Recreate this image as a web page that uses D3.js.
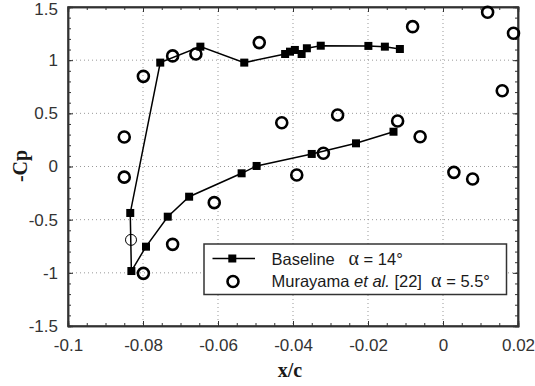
<!DOCTYPE html>
<html><head><meta charset="utf-8">
<script src="https://cdn.jsdelivr.net/npm/d3@7"></script>
<style>body{margin:0;background:#fff}svg{display:block}</style>
</head><body>
<svg id="c" width="535" height="386"></svg>
<script>
// Baseline alpha = 14 deg, in path order (upper surface TE -> LE -> lower surface)
const baseX = [-0.0115,-0.0155,-0.0199,-0.0326,-0.0363,-0.0377,-0.0395,-0.0408,-0.0421,-0.0530,-0.0647,-0.0754,-0.0834,-0.0831,-0.0792,-0.0734,-0.0677,-0.0537,-0.0497,-0.0350,-0.0232,-0.0132];
const baseCp = [1.105,1.127,1.134,1.136,1.112,1.058,1.096,1.080,1.058,0.977,1.127,0.977,-0.437,-0.983,-0.754,-0.472,-0.284,-0.064,0.005,0.118,0.218,0.327];
// Murayama et al. [22] alpha = 5.5 deg
const murX = [-0.0850,-0.0850,-0.0799,-0.0721,-0.0659,-0.0490,-0.0610,-0.0721,-0.0799,-0.0081,0.0119,0.0188,0.0158,-0.0430,-0.0281,-0.0121,-0.0061,-0.0319,-0.0390,0.0029,0.0079];
const murCp = [0.277,-0.100,0.848,1.040,1.058,1.165,-0.340,-0.732,-1.005,1.315,1.450,1.253,0.713,0.412,0.484,0.428,0.280,0.124,-0.080,-0.055,-0.118];
// thin circle near the leading edge
const thinX = [-0.0832];
const thinCp = [-0.690];
const xTicks = [-0.1,-0.08,-0.06,-0.04,-0.02,0,0.02];
const yTicks = [-1.5,-1,-0.5,0,0.5,1,1.5];
const xTickLabels = ["-0.1","-0.08","-0.06","-0.04","-0.02","0","0.02"];
const yTickLabels = ["-1.5","-1","-0.5","0","0.5","1","1.5"];

const svg = d3.select("#c");
const L=68, R=518, T=7, B=326;
const x = d3.scaleLinear().domain([-0.1,0.02]).range([L,R]);
const y = d3.scaleLinear().domain([-1.5,1.5]).range([B,T]);
const axCol = "#333";

// grid
const g = svg.append("g");
xTicks.slice(1,-1).forEach(v=>g.append("line").attr("x1",x(v)).attr("x2",x(v)).attr("y1",T).attr("y2",B)
  .attr("stroke","#999").attr("stroke-width",1).attr("stroke-dasharray","1,3"));
yTicks.slice(1,-1).forEach(v=>g.append("line").attr("x1",L).attr("x2",R).attr("y1",y(v)).attr("y2",y(v))
  .attr("stroke","#999").attr("stroke-width",1).attr("stroke-dasharray","1,3"));

// axes with inward ticks
const xMinor = d3.range(-0.1,0.0201,0.005);
const yMinor = d3.range(-1.5,1.501,0.1);
const axB = d3.axisBottom(x).tickValues(xMinor).tickSize(-3).tickFormat("");
const axT = d3.axisTop(x).tickValues(xMinor).tickSize(-3).tickFormat("");
const axLf = d3.axisLeft(y).tickValues(yMinor).tickSize(-3).tickFormat("");
const axRt = d3.axisRight(y).tickValues(yMinor).tickSize(-3).tickFormat("");
svg.append("g").attr("transform",`translate(0,${B})`).call(axB);
svg.append("g").attr("transform",`translate(0,${T})`).call(axT);
svg.append("g").attr("transform",`translate(${L},0)`).call(axLf);
svg.append("g").attr("transform",`translate(${R},0)`).call(axRt);
const xMaj = d3.axisBottom(x).tickValues(xTicks).tickSize(-5).tickPadding(13).tickFormat((d,i)=>xTickLabels[i]);
const yMaj = d3.axisLeft(y).tickValues(yTicks).tickSize(-5).tickPadding(10).tickFormat((d,i)=>yTickLabels[i]);
svg.append("g").attr("class","xl").attr("transform",`translate(0,${B})`).call(xMaj);
svg.append("g").attr("class","yl").attr("transform",`translate(${L},0)`).call(yMaj);
svg.append("g").attr("transform",`translate(0,${T})`).call(d3.axisTop(x).tickValues(xTicks).tickSize(-5).tickFormat(""));
svg.append("g").attr("transform",`translate(${R},0)`).call(d3.axisRight(y).tickValues(yTicks).tickSize(-5).tickFormat(""));
svg.selectAll(".domain").attr("stroke",axCol).attr("stroke-width",1.5);
svg.selectAll(".tick line").attr("stroke",axCol).attr("stroke-width",1);
svg.selectAll(".tick text").attr("fill","#333").style("font-family","Liberation Sans, Arial, sans-serif").style("font-size","17px");
svg.selectAll(".xl .tick text").attr("dy","0.71em");
// keep the top label inside the picture
svg.selectAll(".yl .tick text").filter((d,i)=>i===yTicks.length-1).attr("dy","0.45em");

// frame
svg.append("rect").attr("x",L).attr("y",T).attr("width",R-L).attr("height",B-T).attr("fill","none").attr("stroke",axCol).attr("stroke-width",1.5);

// baseline line + squares
const pts = baseX.map((v,i)=>[v,baseCp[i]]);
svg.append("path").datum(pts).attr("d",d3.line().x(d=>x(d[0])).y(d=>y(d[1])))
  .attr("fill","none").attr("stroke","#000").attr("stroke-width",1.5);
svg.append("g").selectAll("rect").data(pts).join("rect")
  .attr("x",d=>x(d[0])-4).attr("y",d=>y(d[1])-4).attr("width",8).attr("height",8).attr("fill","#000");

// Murayama circles
svg.append("g").selectAll("circle").data(murX.map((v,i)=>[v,murCp[i]])).join("circle")
  .attr("cx",d=>x(d[0])).attr("cy",d=>y(d[1])).attr("r",5.5).attr("fill","none").attr("stroke","#000").attr("stroke-width",2.6);
svg.append("g").selectAll("circle").data(thinX.map((v,i)=>[v,thinCp[i]])).join("circle")
  .attr("cx",d=>x(d[0])).attr("cy",d=>y(d[1])).attr("r",5.5).attr("fill","none").attr("stroke","#000").attr("stroke-width",1);

// legend
const lg = svg.append("g");
lg.append("rect").attr("x",204).attr("y",244).attr("width",302.5).attr("height",50.5).attr("fill","#fff").attr("stroke",axCol).attr("stroke-width",1.5);
lg.append("line").attr("x1",212.5).attr("x2",255).attr("y1",258.5).attr("y2",258.5).attr("stroke","#000").attr("stroke-width",1.5);
lg.append("rect").attr("x",228.3).attr("y",254.5).attr("width",8).attr("height",8).attr("fill","#000");
lg.append("circle").attr("cx",233).attr("cy",281.5).attr("r",5.5).attr("fill","none").attr("stroke","#000").attr("stroke-width",2.6);
const sans = "Liberation Sans, Arial, sans-serif", serif = "Liberation Serif, Times New Roman, serif";
const t1 = lg.append("text").attr("x",271.5).attr("y",265).attr("fill","#1a1a1a").style("font-family",sans).style("font-size","16.5px");
t1.append("tspan").text("Baseline\u00a0\u00a0\u00a0");
t1.append("tspan").style("font-family",serif).style("font-size","20px").text("α");
t1.append("tspan").text(" = 14°");
const t2 = lg.append("text").attr("x",271.5).attr("y",287).attr("fill","#1a1a1a").style("font-family",sans).style("font-size","16.5px");
t2.append("tspan").text("Murayama ");
t2.append("tspan").style("font-style","italic").text("et al.");
t2.append("tspan").text(" [22]\u00a0\u00a0");
t2.append("tspan").style("font-family",serif).style("font-size","20px").text("α");
t2.append("tspan").text(" = 5.5°");

// axis titles
svg.append("text").attr("x",290).attr("y",377).attr("text-anchor","middle")
  .style("font-family",serif).style("font-weight","bold").style("font-size","20px").attr("fill","#1a1a1a").text("x/c");
svg.append("text").attr("transform","translate(27,166) rotate(-90)").attr("text-anchor","middle")
  .style("font-family",serif).style("font-weight","bold").style("font-size","20px").attr("fill","#1a1a1a").text("-Cp");
</script>
</body></html>
